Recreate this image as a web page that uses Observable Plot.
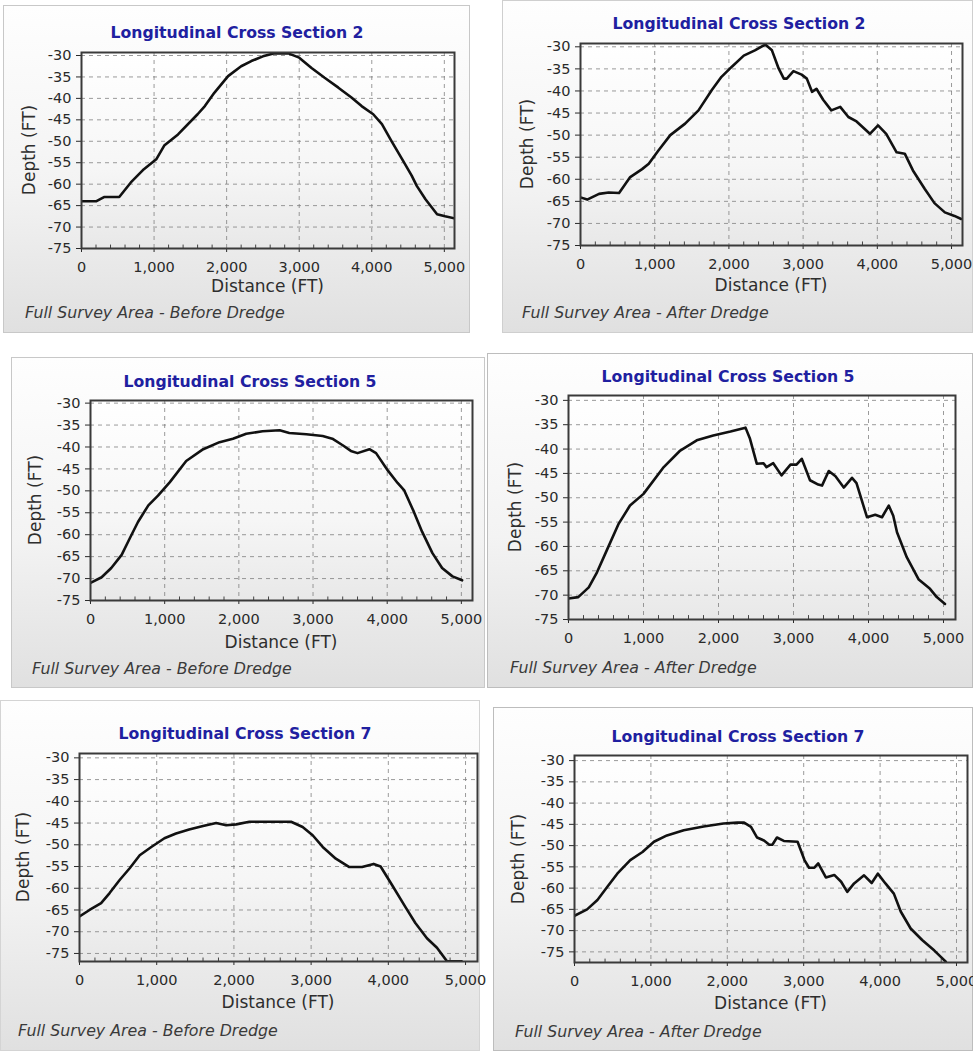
<!DOCTYPE html>
<html>
<head>
<meta charset="utf-8">
<script src="https://cdn.jsdelivr.net/npm/d3@7"></script>
<script src="https://cdn.jsdelivr.net/npm/@observablehq/plot@0.6"></script>
<style>
  html, body { margin: 0; padding: 0; background: #ffffff; }
  #root { position: relative; width: 973px; height: 1051px; overflow: hidden; background: #ffffff; font-family: "DejaVu Sans", Verdana, sans-serif; }
  .panel { position: absolute; box-sizing: border-box; background: linear-gradient(to bottom, #fefefe 0%, #f3f3f3 55%, #e0e0e0 100%); }
  .plotbg { position: absolute; background: linear-gradient(to bottom, #ffffff 0%, #f6f6f6 60%, #e8e8e8 100%); }
  .title { position: absolute; transform: translate(-50%, -50%); font: bold 15.7px "DejaVu Sans", sans-serif; color: #2020a0; white-space: nowrap; }
  .ylab { position: absolute; transform: translate(-50%, -50%) rotate(-90deg); font: 17px "DejaVu Sans", sans-serif; color: #2e2e2e; white-space: nowrap; }
  .xlab { position: absolute; transform: translate(-50%, -50%); font: 17px "DejaVu Sans", sans-serif; color: #2e2e2e; white-space: nowrap; }
  .foot { position: absolute; transform: translate(0, -50%); font: italic 15.8px "DejaVu Sans", sans-serif; color: #3a3a3a; white-space: nowrap; }
  svg.chart { position: absolute; }
</style>
</head>
<body>
<div id="root"></div>
<script>
// ---------- Data ----------
const titles = [
  "Longitudinal Cross Section 2", "Longitudinal Cross Section 2",
  "Longitudinal Cross Section 5", "Longitudinal Cross Section 5",
  "Longitudinal Cross Section 7", "Longitudinal Cross Section 7"
];
const footers = [
  "Full Survey Area - Before Dredge", "Full Survey Area - After Dredge",
  "Full Survey Area - Before Dredge", "Full Survey Area - After Dredge",
  "Full Survey Area - Before Dredge", "Full Survey Area - After Dredge"
];
const yAxisTitle = "Depth (FT)";
const xAxisTitle = "Distance (FT)";
const xTicks = [0, 1000, 2000, 3000, 4000, 5000];
const xMinorTicks = [200, 400, 600, 800, 1200, 1400, 1600, 1800, 2200, 2400, 2600, 2800, 3200, 3400, 3600, 3800, 4200, 4400, 4600, 4800];
const yTicks = [-30, -35, -40, -45, -50, -55, -60, -65, -70, -75];

// Section 2 - before dredge
const cs2BeforeDist  = [0,200,310,520,680,860,1030,1140,1330,1600,1700,1830,2020,2200,2340,2500,2660,2850,3000,3170,3350,3540,3720,3860,4020,4140,4270,4420,4550,4620,4740,4900,5010,5150];
const cs2BeforeDepth = [-64,-64,-63,-63,-59.6,-56.5,-54.2,-51,-48.4,-43.7,-41.8,-38.7,-34.8,-32.5,-31.3,-30.2,-29.5,-29.5,-30.5,-32.9,-35.2,-37.5,-39.8,-41.8,-43.7,-46,-49.9,-54.2,-58,-60.4,-63.5,-67,-67.5,-68];
// Section 2 - after dredge
const cs2AfterDist  = [0,90,250,380,520,670,830,920,1050,1210,1410,1590,1770,1900,2040,2200,2350,2490,2580,2670,2740,2780,2870,2980,3050,3120,3180,3270,3380,3500,3610,3720,3790,3900,4010,4120,4260,4370,4480,4640,4770,4910,5040,5130];
const cs2AfterDepth = [-64.1,-64.6,-63.3,-63,-63.1,-59.5,-57.7,-56.5,-53.5,-50,-47.4,-44.4,-39.8,-36.8,-34.5,-32,-30.8,-29.5,-30.8,-34.9,-37.2,-37.2,-35.5,-36.3,-37.2,-40.2,-39.5,-42,-44.4,-43.6,-45.9,-46.9,-48,-49.7,-47.8,-49.7,-53.9,-54.2,-58,-62.2,-65.4,-67.5,-68.3,-69];
// Section 5 - before dredge
const cs5BeforeDist  = [0,150,280,420,530,640,780,910,1070,1290,1520,1740,1920,2100,2320,2550,2680,2910,3130,3260,3400,3510,3600,3760,3850,4010,4140,4230,4360,4470,4610,4740,4880,5010];
const cs5BeforeDepth = [-71,-69.7,-67.6,-64.6,-60.8,-57.1,-53.3,-51.1,-48,-43.2,-40.5,-38.9,-38.1,-37,-36.4,-36.2,-36.8,-37.1,-37.5,-38.1,-39.6,-40.9,-41.4,-40.5,-41.4,-45.4,-48.2,-49.9,-54.8,-59.3,-64.2,-67.6,-69.5,-70.4];
// Section 5 - after dredge
const cs5AfterDist  = [0,130,270,380,510,670,820,1000,1270,1490,1710,1930,2160,2360,2420,2510,2600,2640,2730,2840,2960,3040,3110,3220,3330,3380,3470,3560,3670,3780,3840,3980,4090,4180,4270,4330,4380,4510,4670,4820,4910,5020];
const cs5AfterDepth = [-70.7,-70.4,-68.4,-65.3,-60.8,-55.3,-51.6,-49.2,-43.7,-40.3,-38.2,-37.2,-36.4,-35.6,-37.9,-43,-42.9,-43.7,-42.9,-45.4,-43.2,-43.2,-42,-46.4,-47.3,-47.5,-44.5,-45.6,-47.9,-45.9,-47,-54,-53.5,-54,-51.6,-53.7,-57.1,-62.2,-66.8,-68.7,-70.4,-71.8];
// Section 7 - before dredge
const cs7BeforeDist  = [0,130,280,390,520,650,780,930,1100,1250,1420,1600,1770,1900,2030,2200,2460,2740,2890,3020,3150,3320,3490,3660,3810,3900,4050,4220,4350,4500,4630,4760,4950];
const cs7BeforeDepth = [-66.5,-65,-63.4,-61.1,-58.1,-55.4,-52.4,-50.5,-48.5,-47.4,-46.5,-45.7,-45,-45.5,-45.3,-44.7,-44.7,-44.7,-45.9,-47.8,-50.5,-53.2,-55.1,-55.1,-54.4,-55,-59.3,-64.3,-68,-71.5,-73.7,-76.8,-76.8];
// Section 7 - after dredge
const cs7AfterDist  = [0,165,300,430,560,730,890,1040,1210,1430,1690,1950,2130,2220,2310,2390,2480,2550,2590,2650,2740,2920,3010,3070,3140,3190,3290,3400,3490,3570,3660,3790,3890,3970,4070,4180,4270,4400,4550,4710,4860];
const cs7AfterDepth = [-66.5,-65,-62.8,-59.7,-56.6,-53.4,-51.5,-49.1,-47.6,-46.4,-45.5,-44.8,-44.6,-44.6,-45.6,-48.1,-48.8,-49.8,-49.8,-48.1,-48.9,-49.1,-53.4,-55.2,-55.2,-54.2,-57.5,-56.9,-58.5,-60.9,-58.9,-57,-58.8,-56.6,-58.9,-61.3,-65.5,-69.5,-72.2,-74.7,-77.3];

const seriesDist  = [cs2BeforeDist, cs2AfterDist, cs5BeforeDist, cs5AfterDist, cs7BeforeDist, cs7AfterDist];
const seriesDepth = [cs2BeforeDepth, cs2AfterDepth, cs5BeforeDepth, cs5AfterDepth, cs7BeforeDepth, cs7AfterDepth];

// ---------- Layout (pixels) ----------
const layout = [
  {box:[3,5,467,328],   border:"1px solid #c8c8c8", plot:[81,52,454,248],  xMax:5140, yDom:[-75,-29.3],  title:[237,32],  depthX:29,  distY:286,  foot:[25,312],  showDist:true},
  {box:[502,0,471,333], border:"1px solid #cfcfcf", plot:[580,43,962,245], xMax:5148, yDom:[-75,-29.25], title:[739,23],  depthX:527, distY:285,  foot:[522,312], showDist:true},
  {box:[11,357,474,331],border:"1px solid #c8c8c8", plot:[90,400,472,600], xMax:5150, yDom:[-75,-29.4],  title:[250,381], depthX:35,  distY:642,  foot:[32,668],  showDist:true},
  {box:[487,353,486,335],border:"1px solid #bdbdbd",plot:[568,395,955,619],xMax:5160, yDom:[-75,-29],    title:[728,376], depthX:515, distY:null, foot:[510,667], showDist:false},
  {box:[0,700,480,351], border:"1px solid #d4d4d4", plot:[79,753,477,961], xMax:5155, yDom:[-76.85,-29], title:[245,733], depthX:23,  distY:1002, foot:[18,1030], showDist:true},
  {box:[493,707,480,344],border:"1px solid #bdbdbd",plot:[574,755,967,962],xMax:5144, yDom:[-77.5,-28.8], title:[738,736], depthX:518, distY:1003, foot:[515,1031],showDist:true}
];

const root = document.getElementById("root");
function el(cls, text, css) {
  const d = document.createElement("div");
  d.className = cls;
  if (text != null) d.textContent = text;
  Object.assign(d.style, css);
  root.appendChild(d);
  return d;
}

layout.forEach((L, i) => {
  const [bx, by, bw, bh] = L.box;
  el("panel", null, {left: bx + "px", top: by + "px", width: bw + "px", height: bh + "px", border: L.border});
  const [pl, pt, pr, pb] = L.plot;
  el("plotbg", null, {left: pl + "px", top: pt + "px", width: (pr - pl) + "px", height: (pb - pt) + "px"});

  const mL = 80, mT = 10, mR = 20, mB = 40;
  const data = seriesDist[i].map((d, k) => ({dist: d, depth: seriesDepth[i][k]}));
  const yMin = L.yDom[0];
  const chart = Plot.plot({
    width: (pr - pl) + mL + mR,
    height: (pb - pt) + mT + mB,
    marginLeft: mL, marginRight: mR, marginTop: mT, marginBottom: mB,
    style: {background: "transparent", fontFamily: "'DejaVu Sans', sans-serif", fontSize: "14.5px", color: "#2a2a2a", overflow: "visible"},
    x: {domain: [0, L.xMax], ticks: xTicks, tickFormat: d3.format(","), tickSize: 4, tickPadding: 9, label: null},
    y: {domain: L.yDom, ticks: yTicks, tickFormat: d => String(d), tickSize: 5, tickPadding: 5, label: null},
    marks: [
      Plot.gridX(xTicks, {stroke: "#7a7a7a", strokeOpacity: 0.75, strokeDasharray: "4,4"}),
      Plot.gridY(yTicks, {stroke: "#7a7a7a", strokeOpacity: 0.75, strokeDasharray: "4,4"}),
      Plot.ruleX(xMinorTicks, {y1: yMin, y2: yMin + 0.8, stroke: "#444", strokeWidth: 1}),
      Plot.line(data, {x: "dist", y: "depth", stroke: "#111", strokeWidth: 2.6, strokeLinejoin: "round", clip: true}),
      Plot.frame({stroke: "#3a3a3a", strokeWidth: 2})
    ]
  });
  chart.classList.add("chart");
  chart.style.left = (pl - mL) + "px";
  chart.style.top = (pt - mT) + "px";
  root.appendChild(chart);

  el("title", titles[i], {left: L.title[0] + "px", top: L.title[1] + "px"});
  el("ylab", yAxisTitle, {left: L.depthX + "px", top: ((pt + pb) / 2) + "px"});
  if (L.showDist) el("xlab", xAxisTitle, {left: ((pl + pr) / 2) + "px", top: L.distY + "px"});
  el("foot", footers[i], {left: L.foot[0] + "px", top: L.foot[1] + "px"});
});
</script>
</body>
</html>
